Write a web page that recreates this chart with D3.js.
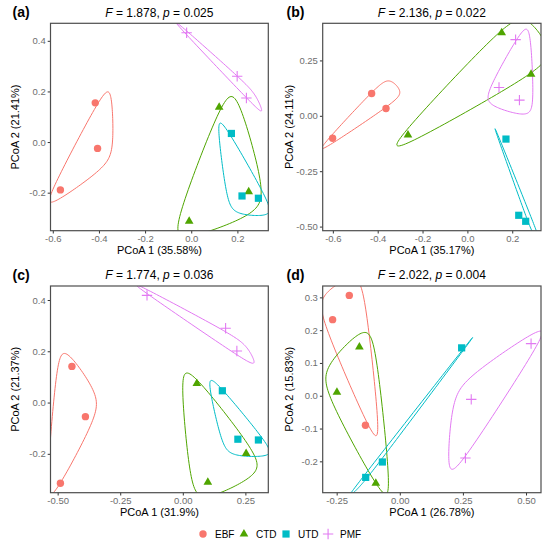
<!DOCTYPE html>
<html>
<head>
<meta charset="utf-8">
<script src="https://cdn.jsdelivr.net/npm/d3@7"></script>
<style>
  body { margin: 0; background: #fff; }
  svg text { font-family: "Liberation Sans", Arial, sans-serif; }
</style>
</head>
<body>
<div id="chart"></div>
<script>

// groups and labels
var groups = ["EBF", "CTD", "UTD", "PMF"];
var groupColors = ["#F8766D", "#4FA500", "#00BCC6", "#E27AF2"];
var sampleGroup = ["EBF","EBF","EBF","CTD","CTD","CTD","UTD","UTD","UTD","PMF","PMF","PMF"];

var panelTags = ["(a)", "(b)", "(c)", "(d)"];
var fValues = ["1.878", "2.136", "1.774", "2.022"];
var pValues = ["0.025", "0.022", "0.036", "0.004"];
var axis1Labels = ["PCoA 1 (35.58%)", "PCoA 1 (35.17%)", "PCoA 1 (31.9%)", "PCoA 1 (26.78%)"];
var axis2Labels = ["PCoA 2 (21.41%)", "PCoA 2 (24.11%)", "PCoA 2 (21.37%)", "PCoA 2 (15.83%)"];

// sample scores
var pcoa1A = [-0.416, -0.406, -0.567,  0.121, -0.009,  0.249,  0.174,  0.220,  0.291, -0.020,  0.199,  0.239];
var pcoa2A = [ 0.155, -0.025, -0.189,  0.138, -0.313, -0.196,  0.034, -0.213, -0.222,  0.432,  0.260,  0.174];

var pcoa1B = [-0.601, -0.427, -0.363, -0.265,  0.153,  0.284,  0.172,  0.229,  0.260,  0.215,  0.141,  0.232];
var pcoa2B = [-0.101,  0.101,  0.033, -0.087,  0.375,  0.188, -0.105, -0.449, -0.476,  0.344,  0.128,  0.071];

var pcoa1C = [-0.443, -0.389, -0.489,  0.056,  0.100,  0.253,  0.158,  0.220,  0.302, -0.143,  0.171,  0.216];
var pcoa2C = [ 0.141, -0.055, -0.315,  0.074, -0.311, -0.199,  0.046, -0.143, -0.146,  0.418,  0.290,  0.201];

var pcoa1D = [-0.200, -0.266, -0.136, -0.160, -0.249, -0.095,  0.245, -0.069, -0.135,  0.520,  0.283,  0.260];
var pcoa2D = [ 0.306,  0.232, -0.090,  0.149,  0.011, -0.267,  0.146, -0.202, -0.249,  0.159, -0.011, -0.190];

// ticks
var xTicksA = [-0.6, -0.4, -0.2, 0.0, 0.2],   yTicksA = [-0.2, 0.0, 0.2, 0.4];
var xTicksB = [-0.6, -0.4, -0.2, 0.0, 0.2],   yTicksB = [-0.50, -0.25, 0.00, 0.25];
var xTicksC = [-0.50, -0.25, 0.00, 0.25],     yTicksC = [-0.2, 0.0, 0.2, 0.4];
var xTicksD = [-0.25, 0.00, 0.25, 0.50],      yTicksD = [-0.2, -0.1, 0.0, 0.1, 0.2, 0.3];
var xFormats = [".1f", ".1f", ".2f", ".2f"];
var yFormats = [".1f", ".2f", ".1f", ".1f"];

var panelsX = [pcoa1A, pcoa1B, pcoa1C, pcoa1D];
var panelsY = [pcoa2A, pcoa2B, pcoa2C, pcoa2D];
var xTicks = [xTicksA, xTicksB, xTicksC, xTicksD];
var yTicks = [yTicksA, yTicksB, yTicksC, yTicksD];

// layout
var boxes = [
	{ x0: 50.5,  x1: 268.3, y0: 23.3, y1: 230.7, cx: 0 },
	{ x0: 322.7, x1: 541,   y0: 23.3, y1: 230.7, cx: 274 },
	{ x0: 50.5,  x1: 268.3, y0: 286,  y1: 492.7, cx: 0 },
	{ x0: 322.7, x1: 541,   y0: 286,  y1: 492.7, cx: 274 }
];

var svg = d3.select("#chart").append("svg")
	.attr("width", 550)
	.attr("height", 545);

function padded(v) {
	var e = d3.extent(v), s = (e[1] - e[0]) * 0.05;
	return [e[0] - s, e[1] + s];
}

// closed x-spline with negative shape (interpolating), like geom_encircle
function gBlend(u, q) {
	return u * (q + u * (2 * q + u * (8 - 12 * q + u * (14 * q - 11 + u * (4 - 5 * q)))));
}
function hBlend(u, q) {
	var u2 = u * u;
	return u * (q + u * (2 * q + u2 * (-2 * q - u * q)));
}
function xspline(cp, q) {
	var n = cp.length, out = [], steps = 40;
	for (var k = 0; k < n; k++) {
		var p0 = cp[(k - 1 + n) % n], p1 = cp[k], p2 = cp[(k + 1) % n], p3 = cp[(k + 2) % n];
		for (var i = 0; i < steps; i++) {
			var t = i / steps;
			var a0 = hBlend(-t, q), a2 = gBlend(t, q);
			var a1 = gBlend(1 - t, q), a3 = hBlend(t - 1, q);
			var w = a0 + a1 + a2 + a3;
			out.push([(a0 * p0[0] + a1 * p1[0] + a2 * p2[0] + a3 * p3[0]) / w,
			          (a0 * p0[1] + a1 * p1[1] + a2 * p2[1] + a3 * p3[1]) / w]);
		}
	}
	return out;
}
function encircle(pts, ex, ey) {
	var hull = d3.polygonHull(pts) || pts;
	var mx = d3.mean(pts, function(p) { return p[0]; });
	var my = d3.mean(pts, function(p) { return p[1]; });
	var ctrl = hull.map(function(p) {
		return [p[0] + Math.sign(p[0] - mx) * ex, p[1] + Math.sign(p[1] - my) * ey];
	});
	return xspline(ctrl, 0.5);
}

function drawMarker(g, grp, cx, cy, color) {
	if (grp === "EBF") {
		g.append("circle").attr("cx", cx).attr("cy", cy).attr("r", 3.7).attr("fill", color);
	} else if (grp === "CTD") {
		var r = 5.0, xc = r * 0.866;
		g.append("path").attr("fill", color)
			.attr("d", "M" + cx + "," + (cy - r) + "L" + (cx + xc) + "," + (cy + r / 2) + "L" + (cx - xc) + "," + (cy + r / 2) + "Z");
	} else if (grp === "UTD") {
		g.append("rect").attr("x", cx - 3.6).attr("y", cy - 3.6).attr("width", 7.2).attr("height", 7.2).attr("fill", color);
	} else {
		var h = 5.2;
		g.append("path").attr("stroke", color).attr("stroke-width", 1.1).attr("fill", "none")
			.attr("d", "M" + (cx - h) + "," + cy + "H" + (cx + h) + "M" + cx + "," + (cy - h) + "V" + (cy + h));
	}
}

var lineGen = d3.line().curve(d3.curveLinearClosed);

boxes.forEach(function(b, i) {
	var xs = panelsX[i], ys = panelsY[i];
	var x = d3.scaleLinear().domain(padded(xs)).range([b.x0, b.x1]);
	var y = d3.scaleLinear().domain(padded(ys)).range([b.y1, b.y0]);
	var pw = b.x1 - b.x0, ph = b.y1 - b.y0;

	svg.append("clipPath").attr("id", "clip" + i)
		.append("rect").attr("x", b.x0).attr("y", b.y0).attr("width", pw).attr("height", ph);

	var plot = svg.append("g").attr("clip-path", "url(#clip" + i + ")");

	// encircle hulls
	groups.forEach(function(grp, gi) {
		var pts = [];
		xs.forEach(function(v, j) { if (sampleGroup[j] === grp) pts.push([x(v), y(ys[j])]); });
		plot.append("path")
			.attr("d", lineGen(encircle(pts, 0.05 * pw, 0.05 * ph)))
			.attr("fill", "none")
			.attr("stroke", groupColors[gi])
			.attr("stroke-width", 1);
	});

	// points
	xs.forEach(function(v, j) {
		var gi = groups.indexOf(sampleGroup[j]);
		drawMarker(plot, sampleGroup[j], x(v), y(ys[j]), groupColors[gi]);
	});

	// axes
	var xa = svg.append("g").attr("transform", "translate(0," + b.y1 + ")")
		.call(d3.axisBottom(x).tickValues(xTicks[i]).tickFormat(d3.format(xFormats[i])).tickSize(2.8).tickPadding(2));
	var ya = svg.append("g").attr("transform", "translate(" + b.x0 + ",0)")
		.call(d3.axisLeft(y).tickValues(yTicks[i]).tickFormat(d3.format(yFormats[i])).tickSize(2.8).tickPadding(2));
	[xa, ya].forEach(function(a) {
		a.select(".domain").remove();
		a.selectAll(".tick line").attr("stroke", "#333").attr("stroke-width", 1);
		a.selectAll(".tick text").attr("fill", "#6e6e6e").style("font-size", "9.5px")
			.style("font-family", "'Liberation Sans', Arial, sans-serif")
			.text(function(d) { return d3.format(a === xa ? xFormats[i] : yFormats[i])(d).replace("−", "-"); });
	});

	// panel border
	svg.append("rect").attr("x", b.x0).attr("y", b.y0).attr("width", pw).attr("height", ph)
		.attr("fill", "none").attr("stroke", "#4d4d4d").attr("stroke-width", 1.2);

	// titles
	var t = svg.append("text").attr("x", (b.x0 + b.x1) / 2).attr("y", b.y0 - 6.6)
		.attr("text-anchor", "middle").style("font-size", "12px").attr("fill", "#000");
	t.append("tspan").style("font-style", "italic").text("F");
	t.append("tspan").text(" = " + fValues[i] + ", ");
	t.append("tspan").style("font-style", "italic").text("p");
	t.append("tspan").text(" = " + pValues[i]);

	svg.append("text").attr("x", b.cx + 12.5).attr("y", b.y0 - 6)
		.style("font-size", "14px").style("font-weight", "bold").text(panelTags[i]);

	svg.append("text").attr("x", (b.x0 + b.x1) / 2).attr("y", b.y1 + 23.3)
		.attr("text-anchor", "middle").style("font-size", "11px").text(axis1Labels[i]);

	svg.append("text")
		.attr("transform", "translate(" + (b.cx + 19) + "," + ((b.y0 + b.y1) / 2) + ") rotate(-90)")
		.attr("text-anchor", "middle").style("font-size", "11px").text(axis2Labels[i]);
});

// legend
var lg = svg.append("g");
var lx = 203, ly = 534;
groups.forEach(function(grp, gi) {
	drawMarker(lg, grp, lx, ly, groupColors[gi]);
	var tx = lg.append("text").attr("x", lx + 12).attr("y", ly + 3.6)
		.style("font-size", "10px").text(grp);
	lx = lx + 12 + tx.node().getComputedTextLength() + 9.5;
});

</script>
</body>
</html>
